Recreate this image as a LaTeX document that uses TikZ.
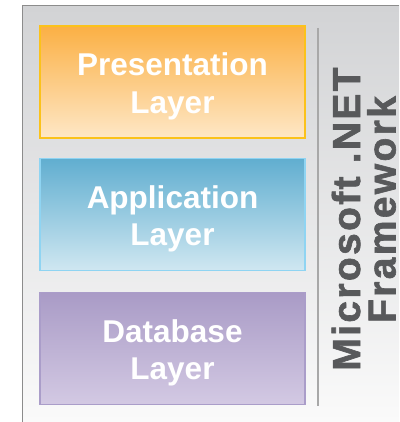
\documentclass[tikz,border=0pt]{standalone}
\usepackage{fontspec}
\setmainfont{Liberation Sans}
\newfontfamily\sidefont[LetterSpace=6, FakeBold=1.6]{Liberation Sans Bold}
\definecolor{framegray}{HTML}{8C8C8C}
\definecolor{bgtop}{HTML}{D2D3D5}
\definecolor{bgbot}{HTML}{FAFAFA}
\definecolor{sepgray}{HTML}{A8A8A8}
\definecolor{sidetext}{HTML}{58595B}
\definecolor{ptop}{HTML}{FBB044}
\definecolor{pbot}{HTML}{FEE7C6}
\definecolor{pline}{HTML}{FBC21B}
\definecolor{atop}{HTML}{60AED0}
\definecolor{abot}{HTML}{D0E7F1}
\definecolor{aline}{HTML}{8FD4F2}
\definecolor{dtop}{HTML}{A99BC6}
\definecolor{dbot}{HTML}{D3C9E3}
\definecolor{dline}{HTML}{AA9DC9}
\tikzset{
  layerbox/.style={rectangle, inner sep=0pt, minimum width=265pt, minimum height=112pt, line width=1.2pt},
  layertext/.style={anchor=north, inner sep=0pt, align=center, text=white,
    font=\fontsize{31.5}{37.5}\selectfont\bfseries},
  sidelabel/.style={rotate=90, anchor=base, inner sep=0pt, text=sidetext,
    font=\sidefont\fontsize{39}{40}\selectfont},
}
\begin{document}
\begin{tikzpicture}[x=1pt,y=-1pt]
\useasboundingbox (0,0) rectangle (399,422);
% background panel
\fill[top color=bgtop, bottom color=bgbot] (22.5,6) rectangle (399,422);
\coordinate (frameTR) at (399,6);
\coordinate (frameTL) at (22.5,6);
\coordinate (frameBL) at (22.5,422);
\draw[framegray, line width=1pt] (frameTR) -- (frameTL) -- (frameBL);
% separator
\coordinate (sepT) at (318,28);
\coordinate (sepB) at (318,406);
\draw[sepgray, line width=2pt] (sepT) -- (sepB);
% layer boxes
\node[layerbox, draw=pline, top color=ptop, bottom color=pbot] (pres) at (172.5,82) {};
\node[layerbox, draw=aline, top color=atop, bottom color=abot] (app) at (172.5,214.5) {};
\node[layerbox, draw=dline, top color=dtop, bottom color=dbot] (db) at (172.5,348.5) {};
\node[layertext] (prestext) at (172.5,52.7) {Presentation\\Layer};
\node[layertext] (apptext) at (172.5,185) {Application\\Layer};
\node[layertext] (dbtext) at (172.5,319.3) {Database\\Layer};
% side labels
\node[sidelabel] (ms) at (360,219) {Microsoft .NET};
\node[sidelabel] (fw) at (395.5,209.5) {Framework};
\end{tikzpicture}
\end{document}
